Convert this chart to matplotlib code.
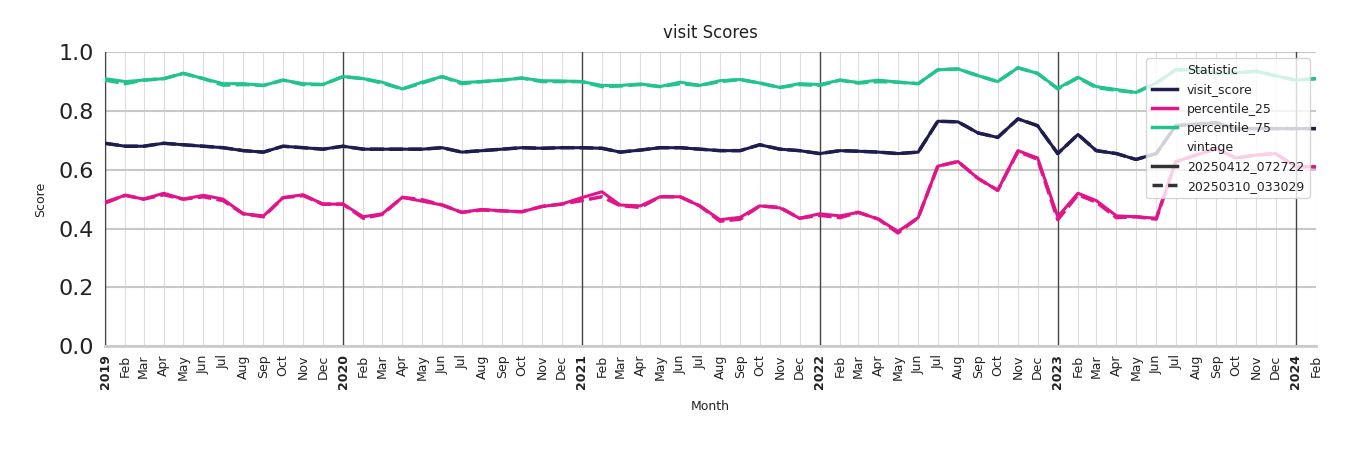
import matplotlib
matplotlib.use("Agg")
import matplotlib.pyplot as plt
from matplotlib.lines import Line2D
import pandas as pd

months = pd.date_range("2019-01-01", "2024-02-01", freq="MS")

visit_a = [.69,.68,.68,.69,.685,.68,.675,.665,.66,.68,.675,.67,
           .68,.67,.67,.67,.67,.675,.66,.665,.67,.675,.673,.675,
           .675,.673,.66,.667,.675,.675,.67,.665,.665,.685,.67,.665,
           .655,.665,.663,.66,.655,.66,.765,.763,.725,.71,.773,.75,
           .655,.72,.665,.655,.635,.655,.75,.755,.76,.74,.74,.74,
           .74,.74]
p25_a = [.49,.513,.50,.52,.50,.513,.50,.45,.443,.505,.515,.483,
         .483,.44,.45,.506,.493,.48,.455,.465,.46,.457,.475,.483,
         .505,.525,.48,.477,.508,.508,.477,.43,.438,.477,.47,.435,
         .45,.443,.455,.432,.39,.437,.612,.628,.57,.53,.665,.64,
         .44,.52,.495,.443,.44,.435,.627,.65,.672,.64,.65,.655,
         .61,.61]
p75_a = [.91,.90,.905,.91,.928,.91,.893,.893,.887,.905,.893,.89,
         .917,.91,.898,.875,.898,.917,.897,.9,.905,.912,.903,.902,
         .9,.887,.887,.892,.883,.898,.887,.903,.907,.895,.88,.893,
         .89,.905,.897,.905,.898,.893,.94,.943,.92,.9,.947,.928,
         .877,.915,.883,.873,.863,.895,.94,.94,.928,.93,.935,.92,
         .905,.91]

visit_b = [.69,.68,.68,.69,.685,.68,.675,.665,.66,.68,.675,.67,
           .68,.67,.67,.67,.67,.675,.66,.665,.67,.675,.673,.675,
           .675,.673,.66,.667,.675,.675,.67,.665,.665,.685,.67,.665,
           .655,.665,.663,.66,.655,.66,.765,.763,.725,.71,.773,.75,
           .655,.72,.665,.655,.635,.655,.75,.755,.76,.74,.74,.74,
           .74,.74]
p25_b = [.487,.513,.50,.515,.50,.508,.495,.45,.44,.505,.512,.483,
         .483,.435,.448,.506,.498,.48,.455,.463,.46,.457,.475,.483,
         .495,.508,.478,.472,.508,.508,.477,.425,.432,.477,.472,.435,
         .445,.437,.455,.432,.385,.437,.612,.628,.57,.53,.662,.636,
         .43,.515,.49,.437,.44,.432,.627,.65,.672,.64,.65,.655,
         .61,.61]
p75_b = [.905,.893,.905,.91,.928,.91,.888,.89,.887,.905,.89,.89,
         .917,.91,.895,.875,.895,.917,.893,.9,.905,.912,.9,.9,
         .9,.883,.885,.89,.883,.893,.887,.9,.907,.895,.88,.89,
         .887,.905,.895,.9,.898,.893,.94,.943,.92,.9,.947,.928,
         .875,.913,.88,.87,.863,.895,.94,.94,.928,.93,.935,.92,
         .905,.91]

stat_names = ["visit_score", "percentile_25", "percentile_75"]
colors = ["#1e1d4f", "#e0158a", "#22c38e"]
vintages = ["20250412_072722", "20250310_033029"]

fig = plt.figure(figsize=(13.5, 4.5), dpi=100)
ax = fig.add_axes([0.0778, 0.231, 0.897, 0.653])

series_a = [visit_a, p25_a, p75_a]
series_b = [visit_b, p25_b, p75_b]
for vals, c in zip(series_b, colors):
    ax.plot(months, vals, color=c, lw=2.5, ls=(0, (4, 1.5)), zorder=3)
for vals, c in zip(series_a, colors):
    ax.plot(months, vals, color=c, lw=2.2, zorder=3)

ax.set_ylim(0, 1.0)
ax.set_xlim(months[0], months[-1])
ax.set_yticks([0, .2, .4, .6, .8, 1.0])
ax.set_yticklabels([f"{v:.1f}" for v in [0, .2, .4, .6, .8, 1.0]], fontsize=16, color="#222222")
ax.yaxis.grid(True, color="#c8c8c8", lw=1.5)
ax.tick_params(axis="y", length=0, pad=8)

ax.set_xticks(months)
labels = [str(d.year) if d.month == 1 else d.strftime("%b") for d in months]
ax.set_xticklabels(labels, rotation=90, fontsize=9, color="#222222")
for lab, d in zip(ax.get_xticklabels(), months):
    if d.month == 1:
        lab.set_fontweight("bold")
ax.tick_params(axis="x", length=0, pad=6)
for d in months:
    if d.month == 1:
        ax.axvline(d, color="#444444", lw=1, zorder=2)
    else:
        ax.axvline(d, color="#dddddd", lw=0.8, zorder=1)

for s in ["top", "right"]:
    ax.spines[s].set_visible(False)
ax.spines["left"].set_color("#444444")
ax.spines["bottom"].set_color("#cccccc")
ax.spines["bottom"].set_linewidth(2)

ax.set_title("visit Scores", fontsize=12, color="#222222", pad=10)
ax.set_xlabel("Month", fontsize=9, color="#222222", labelpad=8)
ax.set_ylabel("Score", fontsize=9, color="#222222", labelpad=8)

handles = [Line2D([], [], color="none")]
handles += [Line2D([], [], color=c, lw=2.5) for c in colors]
handles += [Line2D([], [], color="none")]
handles += [Line2D([], [], color="#333333", lw=2.5),
            Line2D([], [], color="#333333", lw=2.5, ls=(0, (3, 1.5)))]
lbls = ["Statistic"] + stat_names + ["vintage"] + vintages
leg = ax.legend(handles, lbls, loc="upper right", bbox_to_anchor=(1.0, 1.0),
                fontsize=9, framealpha=0.8, edgecolor="#cccccc",
                handlelength=2.0, borderpad=0.45, labelspacing=0.5)
for t in leg.get_texts():
    t.set_color("#222222")

fig.savefig("out.png", dpi=100)
